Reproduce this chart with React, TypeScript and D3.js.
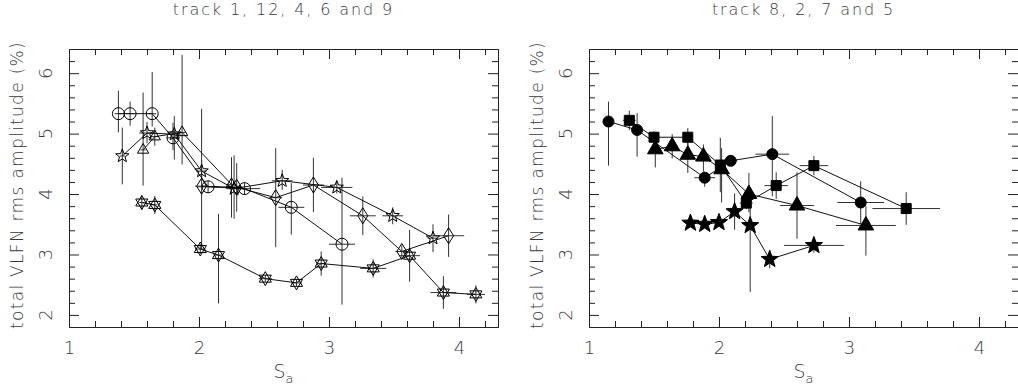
import * as d3 from "d3";
import React, { useRef, useEffect } from "react";

const W = 1018;
const H = 385;
const top = 49;
const panelLeft = [69, 589];
const plotW = 429;
const plotH = 278;

const xDomain = [1, 4.3];
const yDomain = [1.8, 6.4];
const xMajor = [1, 2, 3, 4];
const yMajor = [2, 3, 4, 5, 6];
const xMinor = d3.range(12, 43, 2).map((v) => v / 10).filter((v) => v % 1 !== 0);
const yMinor = d3.range(18, 65, 2).map((v) => v / 10).filter((v) => v % 1 !== 0);
const titles = ["track 1, 12, 4, 6 and 9", "track 8, 2, 7 and 5"];
const yTitle = "total VLFN rms amplitude (%)";

// each point: [S_a, amplitude, xErr, yErrDown, yErrUp]
const openCircles = [
  [1.38, 5.33, 0.03, 0.31, 0.38],
  [1.47, 5.33, 0.03, 0.2, 0.2],
  [1.64, 5.33, 0.03, 0.21, 0.69],
  [1.8, 4.93, 0.05, 0.2, 0.25],
  [2.07, 4.12, 0.08, 0.1, 0.1],
  [2.35, 4.09, 0.12, 0.1, 0.1],
  [2.71, 3.78, 0.1, 0.45, 0.4],
  [3.1, 3.17, 0.1, 1.0, 1.1],
];
const openStars = [
  [1.41, 4.63, 0.02, 0.47, 0.47],
  [1.6, 5.01, 0.06, 0.17, 0.18],
  [1.81, 4.99, 0.05, 0.42, 0.3],
  [2.02, 4.38, 0.04, 0.12, 0.18],
  [2.27, 4.09, 0.06, 0.5, 0.55],
  [2.64, 4.22, 0.08, 0.15, 0.18],
  [3.06, 4.11, 0.12, 0.1, 0.1],
  [3.49, 3.64, 0.08, 0.14, 0.14],
  [3.8, 3.27, 0.04, 0.23, 0.23],
];
const openTriangles = [
  [1.57, 4.73, 0.02, 0.59, 0.95],
  [1.66, 4.95, 0.03, 0.15, 0.15],
  [1.87, 5.02, 0.03, 0.53, 1.28],
  [2.25, 4.16, 0.04, 0.55, 0.45],
];
const openDiamonds = [
  [2.02, 4.13, 0.05, 1.05, 1.28],
  [2.29, 4.11, 0.05, 0.4, 0.4],
  [2.59, 3.94, 0.05, 0.82, 0.82],
  [2.88, 4.15, 0.08, 0.45, 0.45],
  [3.26, 3.64, 0.1, 0.32, 0.32],
  [3.56, 3.05, 0.05, 0.1, 0.1],
  [3.92, 3.31, 0.12, 0.35, 0.35],
];
const hexagrams = [
  [1.56, 3.86, 0.02, 0.12, 0.12],
  [1.66, 3.82, 0.02, 0.15, 0.15],
  [2.01, 3.09, 0.04, 0.08, 0.08],
  [2.15, 2.99, 0.03, 0.8, 0.68],
  [2.51, 2.6, 0.05, 0.05, 0.05],
  [2.75, 2.53, 0.04, 0.05, 0.05],
  [2.94, 2.85, 0.03, 0.2, 0.2],
  [3.34, 2.77, 0.1, 0.15, 0.15],
  [3.62, 2.98, 0.08, 0.43, 0.43],
  [3.88, 2.37, 0.1, 0.27, 0.27],
  [4.13, 2.34, 0.07, 0.15, 0.15],
];

const filledCircles = [
  [1.15, 5.2, 0.04, 0.73, 0.33],
  [1.37, 5.06, 0.04, 0.44, 0.28],
  [1.89, 4.27, 0.08, 0.15, 0.1],
  [2.09, 4.55, 0.05, 0.05, 0.05],
  [2.41, 4.66, 0.13, 0.7, 0.63],
  [3.09, 3.86, 0.18, 0.35, 0.35],
];
const filledSquares = [
  [1.31, 5.22, 0.05, 0.16, 0.16],
  [1.5, 4.94, 0.04, 0.08, 0.1],
  [1.76, 4.94, 0.03, 0.17, 0.15],
  [2.01, 4.48, 0.02, 0.45, 0.45],
  [2.21, 3.85, 0.05, 0.1, 0.1],
  [2.44, 4.14, 0.09, 0.22, 0.22],
  [2.73, 4.47, 0.11, 0.16, 0.16],
  [3.44, 3.76, 0.26, 0.27, 0.27],
];
const filledTriangles = [
  [1.51, 4.74, 0.02, 0.3, 0.1],
  [1.64, 4.79, 0.03, 0.2, 0.2],
  [1.76, 4.65, 0.03, 0.3, 0.2],
  [1.88, 4.62, 0.03, 0.25, 0.2],
  [2.02, 4.41, 0.03, 0.55, 0.35],
  [2.23, 4.0, 0.03, 0.3, 0.35],
  [2.6, 3.81, 0.13, 0.55, 0.55],
  [3.13, 3.48, 0.23, 0.5, 0.32],
];
const filledStars = [
  [1.78, 3.52, 0.02, 0.05, 0.05],
  [1.89, 3.5, 0.02, 0.05, 0.05],
  [2.0, 3.53, 0.02, 0.05, 0.05],
  [2.12, 3.71, 0.02, 0.3, 0.3],
  [2.24, 3.48, 0.02, 1.1, 0.55],
  [2.39, 2.92, 0.02, 0.15, 0.15],
  [2.73, 3.15, 0.23, 0.12, 0.12],
];

const leftSeries = [
  { data: hexagrams, shape: "hexagram", filled: false },
  { data: openDiamonds, shape: "diamond", filled: false },
  { data: openTriangles, shape: "triangle", filled: false },
  { data: openStars, shape: "star", filled: false },
  { data: openCircles, shape: "circle", filled: false },
];
const rightSeries = [
  { data: filledStars, shape: "star", filled: true },
  { data: filledTriangles, shape: "triangle", filled: true },
  { data: filledSquares, shape: "square", filled: true },
  { data: filledCircles, shape: "circle", filled: true },
];

const font = "'DejaVu Sans', sans-serif";
const textColor = "#3a3a3a";

function poly(pts) {
  return "M" + pts.map((p) => p.join(",")).join("L") + "Z";
}
function ring(n, R, start) {
  return d3.range(n).map((i) => {
    const a = start + (i * 2 * Math.PI) / n;
    return [R * Math.cos(a), R * Math.sin(a)];
  });
}
function markerPath(shape, filled) {
  if (shape === "circle") {
    const r = filled ? 5.5 : 6;
    return `M${r},0A${r},${r} 0 1,1 ${-r},0A${r},${r} 0 1,1 ${r},0Z`;
  }
  if (shape === "square") return poly([[-5, -5], [5, -5], [5, 5], [-5, 5]]);
  if (shape === "diamond") return poly([[0, -8], [5, 0], [0, 8], [-5, 0]]);
  if (shape === "triangle") {
    const R = filled ? 9 : 6.5;
    return poly(ring(3, R, -Math.PI / 2));
  }
  if (shape === "hexagram") {
    const R = 7;
    return poly(ring(3, R, -Math.PI / 2)) + poly(ring(3, R, Math.PI / 2));
  }
  // five pointed star
  const R = filled ? 9 : 7;
  const pts = d3.range(10).map((i) => {
    const rr = i % 2 === 0 ? R : R * 0.42;
    const a = -Math.PI / 2 + (i * Math.PI) / 5;
    return [rr * Math.cos(a), rr * Math.sin(a)];
  });
  return poly(pts);
}

function App() {
  const ref = useRef(null);

  useEffect(() => {
    const svg = d3.select(ref.current);
    svg.selectAll("*").remove();

    const x = d3.scaleLinear().domain(xDomain).range([0, plotW]);
    const y = d3.scaleLinear().domain(yDomain).range([plotH, 0]);

    [leftSeries, rightSeries].forEach((seriesList, pi) => {
      const g = svg.append("g").attr("transform", `translate(${panelLeft[pi]},${top})`);

      const styleAxis = (sel) => {
        sel.attr("font-family", font);
        sel.selectAll("line").attr("stroke", "#222");
        sel.selectAll(".domain").attr("stroke", "#222");
      };
      const blank = () => "";

      // bottom
      g.append("g")
        .attr("transform", `translate(0,${plotH})`)
        .call(d3.axisBottom(x).tickValues(xMajor).tickSize(-10).tickSizeOuter(0).tickPadding(14).tickFormat(d3.format("d")))
        .call(styleAxis)
        .call((a) => a.selectAll("text").attr("font-size", 18).attr("fill", textColor).attr("font-weight", 200));
      g.append("g")
        .attr("transform", `translate(0,${plotH})`)
        .call(d3.axisBottom(x).tickValues(xMinor).tickSize(-6).tickSizeOuter(0).tickFormat(blank))
        .call(styleAxis);
      // top
      g.append("g")
        .call(d3.axisTop(x).tickValues(xMajor).tickSize(-10).tickSizeOuter(0).tickFormat(blank))
        .call(styleAxis);
      g.append("g")
        .call(d3.axisTop(x).tickValues(xMinor).tickSize(-6).tickSizeOuter(0).tickFormat(blank))
        .call(styleAxis);
      // left
      g.append("g")
        .call(d3.axisLeft(y).tickValues(yMajor).tickSize(-10).tickSizeOuter(0).tickFormat(blank))
        .call(styleAxis);
      g.append("g")
        .call(d3.axisLeft(y).tickValues(yMinor).tickSize(-6).tickSizeOuter(0).tickFormat(blank))
        .call(styleAxis);
      // right
      g.append("g")
        .attr("transform", `translate(${plotW},0)`)
        .call(d3.axisRight(y).tickValues(yMajor).tickSize(-10).tickSizeOuter(0).tickFormat(blank))
        .call(styleAxis);
      g.append("g")
        .attr("transform", `translate(${plotW},0)`)
        .call(d3.axisRight(y).tickValues(yMinor).tickSize(-6).tickSizeOuter(0).tickFormat(blank))
        .call(styleAxis);

      // rotated y tick labels
      g.selectAll(".ylab")
        .data(yMajor)
        .join("text")
        .attr("transform", (d) => `translate(-24,${y(d)}) rotate(-90)`)
        .attr("text-anchor", "middle")
        .attr("dominant-baseline", "central")
        .attr("font-family", font)
        .attr("font-weight", 200)
        .attr("font-size", 18)
        .attr("fill", textColor)
        .text((d) => d);

      // axis titles
      g.append("text")
        .attr("transform", `translate(-52,${plotH / 2 - 3}) rotate(-90)`)
        .attr("text-anchor", "middle")
        .attr("dominant-baseline", "central")
        .attr("font-family", font)
        .attr("font-weight", 200)
        .attr("font-size", 17)
        .attr("letter-spacing", 1.3)
        .attr("fill", textColor)
        .text(yTitle);

      const xt = g.append("text")
        .attr("x", plotW / 2)
        .attr("y", plotH + 51)
        .attr("text-anchor", "middle")
        .attr("font-family", font)
        .attr("font-weight", 200)
        .attr("font-size", 19)
        .attr("fill", textColor);
      xt.append("tspan").text("S");
      xt.append("tspan").attr("font-size", 13).attr("dy", 5).text("a");

      g.append("text")
        .attr("x", plotW / 2)
        .attr("y", -34)
        .attr("text-anchor", "middle")
        .attr("font-family", font)
        .attr("font-weight", 200)
        .attr("font-size", 16)
        .attr("letter-spacing", 1.9)
        .attr("fill", textColor)
        .text(titles[pi]);

      // error bars
      const bars = g.append("g").attr("stroke", "#333").attr("stroke-width", 1);
      seriesList.forEach((s) => {
        bars.selectAll(null)
          .data(s.data)
          .join("line")
          .attr("x1", (d) => x(d[0]))
          .attr("x2", (d) => x(d[0]))
          .attr("y1", (d) => y(d[1] - d[3]))
          .attr("y2", (d) => y(d[1] + d[4]));
        bars.selectAll(null)
          .data(s.data)
          .join("line")
          .attr("x1", (d) => x(d[0] - d[2]))
          .attr("x2", (d) => x(d[0] + d[2]))
          .attr("y1", (d) => y(d[1]))
          .attr("y2", (d) => y(d[1]));
      });

      // connecting lines
      const line = d3.line().x((d) => x(d[0])).y((d) => y(d[1]));
      seriesList.forEach((s) => {
        g.append("path")
          .attr("d", line(s.data))
          .attr("fill", "none")
          .attr("stroke", "#111")
          .attr("stroke-width", 1);
      });

      // markers
      seriesList.forEach((s) => {
        g.append("g")
          .selectAll("path")
          .data(s.data)
          .join("path")
          .attr("transform", (d) => `translate(${x(d[0])},${y(d[1])})`)
          .attr("d", markerPath(s.shape, s.filled))
          .attr("fill", s.filled ? "#000" : "none")
          .attr("stroke", "#000")
          .attr("stroke-width", 1);
      });
    });
  }, []);

  return (
    <div style={{ position: "absolute", left: 0, top: 0 }}>
      <svg ref={ref} width={W} height={H} style={{ display: "block", background: "#fff" }} />
    </div>
  );
}

export default App;
